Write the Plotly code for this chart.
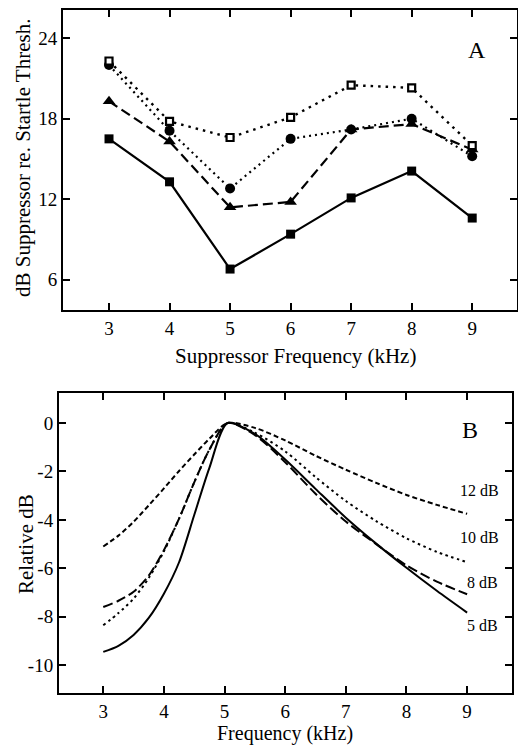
import plotly.graph_objects as go

# ---------------- Panel A data ----------------
supp_freq = [3, 4, 5, 6, 7, 8, 9]
open_sq = [22.3, 17.8, 16.6, 18.1, 20.5, 20.3, 16.0]
circles = [22.0, 17.1, 12.8, 16.5, 17.2, 18.0, 15.2]
triangles = [19.3, 16.3, 11.4, 11.8, 17.2, 17.6, 15.7]
filled_sq = [16.5, 13.3, 6.8, 9.4, 12.1, 14.1, 10.6]
a_yticks = [6, 12, 18, 24]

# ---------------- Panel B data ----------------
freq_b = [3, 3.25, 3.5, 3.75, 4, 4.25, 4.5, 4.75, 5.05, 5.5, 6, 6.5, 7, 7.5, 8, 8.5, 9]
curve_12 = [-5.1, -4.65, -4.08, -3.4, -2.7, -1.98, -1.3, -0.65, 0, -0.2, -0.72, -1.35, -1.93, -2.47, -2.97, -3.38, -3.75]
curve_10 = [-8.35, -7.85, -7.25, -6.4, -5.3, -3.95, -2.45, -1.1, 0, -0.4, -1.17, -2.23, -3.22, -4.05, -4.76, -5.32, -5.75]
curve_8 = [-7.6, -7.34, -6.97, -6.3, -5.25, -3.95, -2.45, -1.1, 0, -0.5, -1.62, -2.92, -4.07, -5.0, -5.88, -6.55, -7.07]
curve_5 = [-9.45, -9.2, -8.75, -8.05, -7.05, -5.75, -3.8, -1.85, 0, -0.45, -1.51, -2.72, -3.91, -4.98, -5.98, -6.93, -7.83]
b_yticks = [0, -2, -4, -6, -8, -10]
b_yticktext = ["0", "-2", "-4", "-6", "-8", "-10"]
curve_labels = ["12 dB", "10 dB", "8 dB", "5 dB"]

SERIF = "Liberation Serif, Times New Roman, serif"
W, H = 518, 745

fig = go.Figure()

# Panel A traces
fig.add_trace(go.Scatter(x=supp_freq, y=filled_sq, mode="lines+markers",
                         line=dict(color="black", width=2.2),
                         marker=dict(symbol="square", size=9, color="black"),
                         xaxis="x", yaxis="y"))
fig.add_trace(go.Scatter(x=supp_freq, y=triangles, mode="lines+markers",
                         line=dict(color="black", width=2.2, dash="10px,5px"),
                         marker=dict(symbol="triangle-up", size=11, color="black"),
                         xaxis="x", yaxis="y"))
fig.add_trace(go.Scatter(x=supp_freq, y=circles, mode="lines+markers",
                         line=dict(color="black", width=2.2, dash="2px,4px"),
                         marker=dict(symbol="circle", size=10, color="black"),
                         xaxis="x", yaxis="y"))
fig.add_trace(go.Scatter(x=supp_freq, y=open_sq, mode="lines+markers",
                         line=dict(color="black", width=2.4, dash="2.5px,5px"),
                         marker=dict(symbol="square", size=7, color="white",
                                     line=dict(color="black", width=2.2)),
                         xaxis="x", yaxis="y"))

# Panel B traces
fig.add_trace(go.Scatter(x=freq_b, y=curve_5, mode="lines",
                         line=dict(color="black", width=2, shape="spline", smoothing=0.8),
                         xaxis="x2", yaxis="y2"))
fig.add_trace(go.Scatter(x=freq_b, y=curve_8, mode="lines",
                         line=dict(color="black", width=2, shape="spline", smoothing=0.8, dash="10px,4px"),
                         xaxis="x2", yaxis="y2"))
fig.add_trace(go.Scatter(x=freq_b, y=curve_10, mode="lines",
                         line=dict(color="black", width=2, shape="spline", smoothing=0.8, dash="2.5px,3.5px"),
                         xaxis="x2", yaxis="y2"))
fig.add_trace(go.Scatter(x=freq_b, y=curve_12, mode="lines",
                         line=dict(color="black", width=2, shape="spline", smoothing=0.8, dash="5px,3px"),
                         xaxis="x2", yaxis="y2"))

axis_common = dict(showgrid=False, zeroline=False, showline=True, linecolor="black",
                   linewidth=2, mirror="ticks", ticks="inside", ticklen=7, tickwidth=2,
                   tickcolor="black", tickfont=dict(family=SERIF, size=19, color="black"),
                   automargin=False)

def px_x(p):
    return p / W

def px_y(p):
    return 1 - p / H

fig.update_layout(
    width=W, height=H,
    margin=dict(l=0, r=0, t=0, b=0),
    paper_bgcolor="white", plot_bgcolor="white",
    showlegend=False,
    xaxis=dict(domain=[px_x(63), px_x(517)], range=[2.24, 9.74], tickvals=supp_freq,
               anchor="y", **axis_common),
    yaxis=dict(domain=[px_y(310), px_y(10)], range=[3.75, 26.1], tickvals=a_yticks,
               anchor="x", **axis_common),
    xaxis2=dict(domain=[px_x(59), px_x(512)], range=[2.27, 9.74], tickvals=supp_freq,
                anchor="y2", **axis_common),
    yaxis2=dict(domain=[px_y(693), px_y(393)], range=[-11.15, 1.24], tickvals=b_yticks,
                ticktext=b_yticktext, anchor="x2", **axis_common),
)

ann = []
def add_text(text, x, y, size, angle=0):
    ann.append(dict(text=text, x=px_x(x), y=px_y(y), xref="paper", yref="paper",
                    showarrow=False, xanchor="center", yanchor="middle", textangle=angle,
                    font=dict(family=SERIF, size=size, color="black")))

add_text("Suppressor Frequency (kHz)", 295, 356, 21)
add_text("dB Suppressor re. Startle Thresh.", 23, 158, 21, -90)
add_text("A", 477, 50, 24)
add_text("Frequency (kHz)", 285, 733, 20)
add_text("Relative dB", 26, 544, 21, -90)
add_text("B", 470, 430, 24)
label_pos = [(479, 490), (479, 537), (482, 582), (482, 625)]
for t, (lx, ly) in zip(curve_labels, label_pos):
    add_text(t, lx, ly, 16)
fig.update_layout(annotations=ann)

fig.write_html("out.html")
